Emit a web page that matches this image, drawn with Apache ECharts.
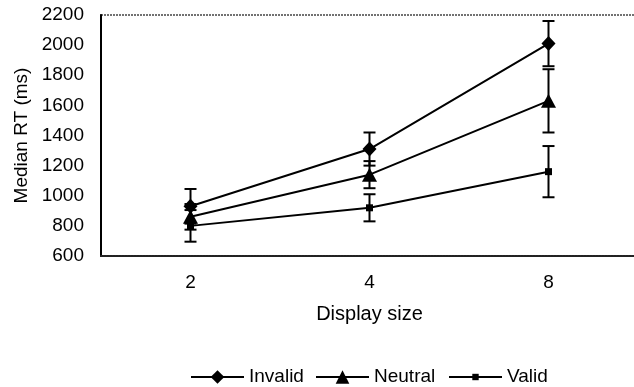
<!DOCTYPE html>
<html>
<head>
<meta charset="utf-8">
<script src="https://cdn.jsdelivr.net/npm/echarts@6/dist/echarts.min.js"></script>
<style>
html,body{margin:0;padding:0;background:#fff;}
#chart{width:634px;height:387px;}
</style>
</head>
<body>
<div id="chart"></div>
<script>
// Median response times by display size, with error bars
const displaySizes = ['2', '4', '8'];
const yTicks = [600, 800, 1000, 1200, 1400, 1600, 1800, 2000, 2200];

const invalidRT = [930, 1310, 2010];
const neutralRT = [860, 1140, 1630];
const validRT = [800, 920, 1160];

const invalidErr = [115, 110, 150];
const neutralErr = [85, 90, 210];
const validErr = [105, 90, 170];

const FONT = 'Liberation Sans, Arial, sans-serif';
const FS = 19;

function errData(values, errs) {
  return values.map((v, i) => [i, v - errs[i], v + errs[i]]);
}

function renderErr(params, api) {
  const x = api.value(0);
  const lo = api.coord([x, api.value(1)]);
  const hi = api.coord([x, api.value(2)]);
  const half = 6;
  const style = { stroke: '#000', lineWidth: 2, fill: null };
  return {
    type: 'group',
    children: [
      { type: 'line', shape: { x1: lo[0], y1: lo[1], x2: hi[0], y2: hi[1] }, style },
      { type: 'line', shape: { x1: lo[0] - half, y1: lo[1], x2: lo[0] + half, y2: lo[1] }, style },
      { type: 'line', shape: { x1: hi[0] - half, y1: hi[1], x2: hi[0] + half, y2: hi[1] }, style }
    ]
  };
}

function lineSeries(name, data, symbol, size) {
  return {
    name, type: 'line', data, symbol, symbolSize: size,
    itemStyle: { color: '#000' },
    lineStyle: { color: '#000', width: 2 },
    z: 3, animation: false
  };
}

function errSeries(values, errs) {
  return {
    type: 'custom', data: errData(values, errs), renderItem: renderErr,
    z: 2, silent: true, animation: false
  };
}

// one legend per entry so each marker keeps its own size
function legendFor(name, left, itemHeight) {
  return {
    data: [name], left, top: 377 - Math.max(itemHeight, FS) / 2, padding: 0,
    itemWidth: 53, itemHeight,
    textStyle: { fontFamily: FONT, fontSize: FS, color: '#000' }
  };
}

const chart = echarts.init(document.getElementById('chart'), null, { renderer: 'canvas' });
chart.setOption({
  backgroundColor: '#fff',
  animation: false,
  grid: {
    left: 101, top: 15, height: 241, width: 537,
    outerBoundsMode: 'none',
    show: true, borderColor: '#444', borderWidth: 1.6, borderType: [2, 1]
  },
  xAxis: {
    type: 'category', data: displaySizes, boundaryGap: true,
    name: 'Display size', nameLocation: 'middle', nameGap: 48,
    nameTextStyle: { fontFamily: FONT, fontSize: 20, color: '#000' },
    axisLine: { show: true, lineStyle: { color: '#222', width: 2, type: [2, 1] } },
    axisTick: { show: false },
    axisLabel: { fontFamily: FONT, fontSize: FS, color: '#000', margin: 17 }
  },
  yAxis: {
    type: 'value', min: yTicks[0], max: yTicks[yTicks.length - 1], interval: 200,
    name: 'Median RT (ms)', nameLocation: 'middle', nameGap: 69,
    nameTextStyle: { fontFamily: FONT, fontSize: FS, color: '#000' },
    axisLine: { show: true, lineStyle: { color: '#000', width: 2 } },
    axisTick: { show: false }, splitLine: { show: false },
    axisLabel: { fontFamily: FONT, fontSize: FS, color: '#000', margin: 17, formatter: v => String(v) }
  },
  legend: [
    legendFor('Invalid', 190, 17),
    legendFor('Neutral', 315, 17),
    legendFor('Valid', 448, 8)
  ],
  series: [
    errSeries(invalidRT, invalidErr),
    errSeries(neutralRT, neutralErr),
    errSeries(validRT, validErr),
    lineSeries('Invalid', invalidRT, 'diamond', [14, 15]),
    lineSeries('Neutral', neutralRT, 'triangle', [15, 14]),
    lineSeries('Valid', validRT, 'rect', 7)
  ]
});
</script>
</body>
</html>
